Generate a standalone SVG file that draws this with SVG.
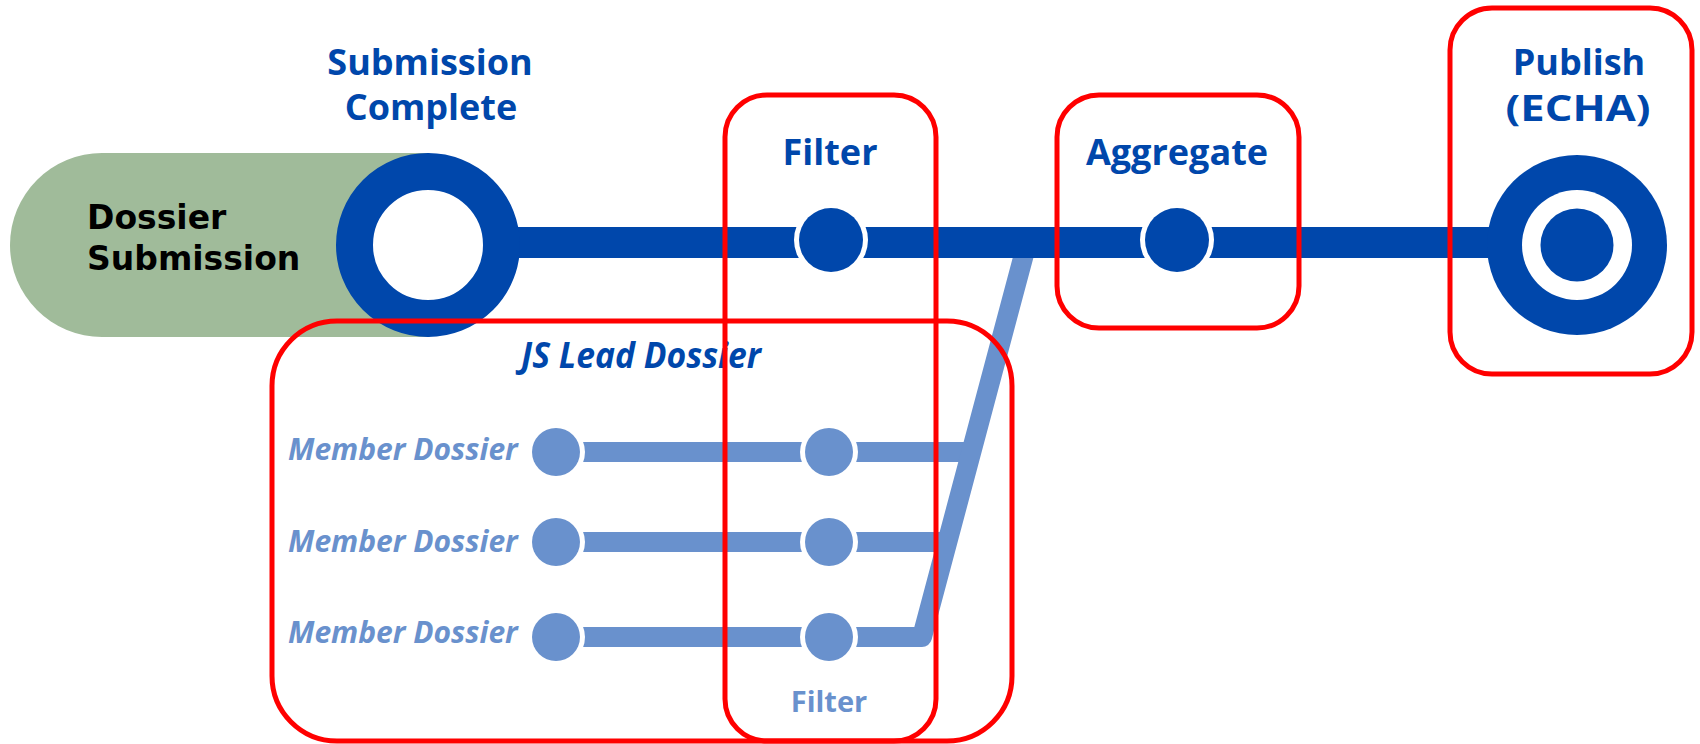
<svg xmlns="http://www.w3.org/2000/svg" width="1700" height="744" viewBox="0 0 1700 744">
<style>
.lbl{font-family:"Open Sans","Liberation Sans",sans-serif;font-weight:700;font-size:36px;fill:#0047AB;text-anchor:middle}
.mem{font-family:"Open Sans","Liberation Sans",sans-serif;font-weight:700;font-style:italic;font-size:30px;fill:#6991CD}
.sub{font-family:"DejaVu Sans","Liberation Sans",sans-serif;font-weight:700;font-size:33px;fill:#000}
.box{fill:none;stroke:#FF0000;stroke-width:5}
.main{stroke:#0047AB;stroke-width:31;fill:none}
.lite{stroke:#6991CD;stroke-width:20;fill:none;stroke-linejoin:round}
.gap{fill:#fff}
.dk{fill:#0047AB}
.lt{fill:#6991CD}
</style>
<rect width="1700" height="744" fill="#fff"/>
<g id="dossier-submission">
<path d="M102 153 H430 V337 H102 A92 92 0 0 1 102 153 Z" fill="#A0BB9A"/>
<text class="sub" x="87" y="229">Dossier</text>
<text class="sub" x="87" y="270">Submission</text>
</g>
<g id="connectors">
<path class="lite" d="M555 452 H971"/>
<path class="lite" d="M555 542 H948"/>
<path class="lite" d="M555 637 H922 L1027 243"/>
<path class="main" d="M428 242.5 H1577"/>
</g>
<g id="submission-complete">
<circle cx="428" cy="245" r="73.5" fill="#fff" stroke="#0047AB" stroke-width="37"/>
<text class="lbl" x="430" y="75">Submission</text>
<text class="lbl" x="431" y="120">Complete</text>
</g>
<g id="filter">
<circle class="gap" cx="831" cy="240" r="37"/>
<circle class="dk" cx="831" cy="240" r="32"/>
<text class="lbl" x="830" y="165">Filter</text>
</g>
<g id="aggregate">
<circle class="gap" cx="1177" cy="240" r="37"/>
<circle class="dk" cx="1177" cy="240" r="32"/>
<text class="lbl" x="1177" y="165">Aggregate</text>
</g>
<g id="publish">
<circle class="dk" cx="1577" cy="245" r="90"/>
<circle class="gap" cx="1577" cy="245" r="55"/>
<circle class="dk" cx="1577" cy="245" r="36.5"/>
<text class="lbl" x="1579" y="75">Publish</text>
<text class="lbl" x="1578" y="121" textLength="145" lengthAdjust="spacingAndGlyphs">(ECHA)</text>
</g>
<g id="js-lead-dossier">
<text class="lbl" x="641" y="368" font-style="italic" font-size="32" textLength="240" lengthAdjust="spacingAndGlyphs">JS Lead Dossier</text>
</g>
<g id="member-1">
<circle class="gap" cx="556" cy="452" r="29"/>
<circle class="lt" cx="556" cy="452" r="24"/>
<circle class="gap" cx="829" cy="452" r="29"/>
<circle class="lt" cx="829" cy="452" r="24"/>
<text class="mem" x="288" y="460">Member Dossier</text>
</g>
<g id="member-2">
<circle class="gap" cx="556" cy="542" r="29"/>
<circle class="lt" cx="556" cy="542" r="24"/>
<circle class="gap" cx="829" cy="542" r="29"/>
<circle class="lt" cx="829" cy="542" r="24"/>
<text class="mem" x="288" y="552">Member Dossier</text>
</g>
<g id="member-3">
<circle class="gap" cx="556" cy="637" r="29"/>
<circle class="lt" cx="556" cy="637" r="24"/>
<circle class="gap" cx="829" cy="637" r="29"/>
<circle class="lt" cx="829" cy="637" r="24"/>
<text class="mem" x="288" y="643">Member Dossier</text>
</g>
<g id="member-filter">
<text class="lbl" x="829" y="712" style="fill:#6991CD;font-size:29px">Filter</text>
</g>
<g id="highlight-boxes">
<rect class="box" x="272" y="321" width="740" height="420" rx="65"/>
<rect class="box" x="725" y="95" width="211" height="646" rx="42"/>
<rect class="box" x="1057" y="95" width="242" height="233" rx="42"/>
<rect class="box" x="1450" y="8" width="242" height="366" rx="42"/>
</g>
</svg>
